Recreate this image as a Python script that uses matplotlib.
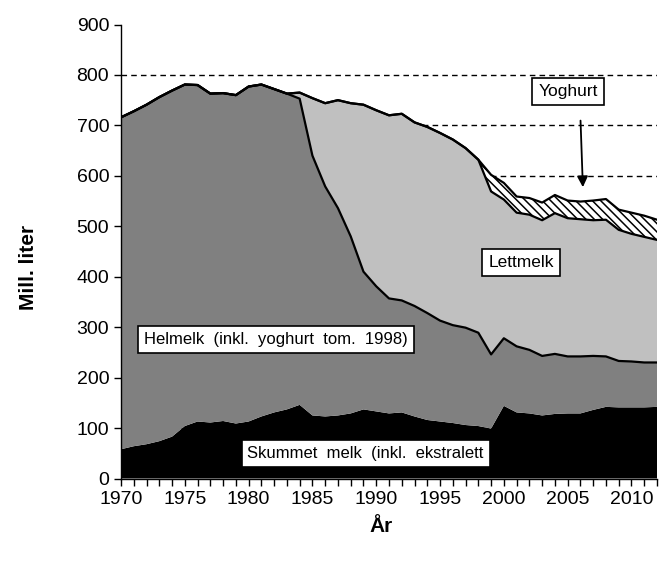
import matplotlib
matplotlib.use('Agg')
import matplotlib.pyplot as plt
from matplotlib.ticker import MultipleLocator
import numpy as np

plt.rcParams['font.family'] = ['Liberation Sans', 'DejaVu Sans']
plt.rcParams['hatch.linewidth'] = 1.1

# Mill. liter per år
years = list(range(1970, 2013))
skummet = [58, 64, 68, 74, 83, 104, 113, 111, 114, 109, 113, 123, 131, 137, 146,
           125, 123, 125, 129, 137, 133, 129, 131, 123, 116, 113, 110, 106, 104, 99,
           144, 131, 129, 125, 128, 129, 129, 136, 142, 141, 141, 141, 142]
helmelk = [658, 664, 673, 682, 686, 677, 667, 652, 650, 651, 664, 658, 641, 626, 607,
           515, 456, 411, 351, 273, 248, 228, 222, 219, 212, 200, 194, 193, 185, 147,
           134, 131, 126, 118, 119, 113, 113, 107, 100, 92, 91, 89, 88]
lettmelk = [0, 0, 0, 0, 0, 0, 0, 0, 0, 0, 0, 0, 0, 0, 12,
            114, 165, 214, 264, 331, 349, 363, 370, 364, 369, 372, 368, 356, 343, 323,
            275, 265, 268, 269, 279, 274, 272, 269, 271, 260, 253, 249, 243]
yoghurt = [0] * 29 + [33, 33, 32, 33, 35, 36, 35, 35, 39, 41, 40, 42, 42, 40]

x = np.array(years)
s_top = np.array(skummet)
h_top = s_top + np.array(helmelk)
l_top = h_top + np.array(lettmelk)
y_top = l_top + np.array(yoghurt)

fig = plt.figure(figsize=(6.59, 5.62), dpi=100)
ax = fig.add_axes([121 / 659, 1 - 478.5 / 562, 536 / 659, 454 / 562])

ax.fill_between(x, 0, s_top, facecolor='black', linewidth=0)
ax.fill_between(x, s_top, h_top, facecolor='#808080', linewidth=0)
ax.fill_between(x, h_top, l_top, facecolor='#c0c0c0', linewidth=0)
ax.fill_between(x, l_top, y_top, facecolor='white', edgecolor='black',
                hatch='\\\\\\\\', linewidth=0)

ax.plot(x, h_top, color='black', lw=1.6, zorder=3)
ax.plot(x, l_top, color='black', lw=1.6, zorder=3)
ax.plot(x, y_top, color='black', lw=1.6, zorder=3)

ax.set_xlim(1970, 2012)
ax.set_ylim(0, 900)
ax.set_yticks(range(0, 1000, 100))
ax.xaxis.set_major_locator(MultipleLocator(5))
ax.xaxis.set_minor_locator(MultipleLocator(1))
ax.tick_params(axis='both', which='both', direction='out', length=5,
               width=1, labelsize=14, color='black')
ax.tick_params(axis='x', pad=4)

ax.grid(axis='y', linestyle=(0, (4, 3)), color='black', linewidth=1)
ax.set_axisbelow(True)
gl = ax.get_ygridlines()
gl[0].set_visible(False)
gl[-1].set_visible(False)

for side in ['top', 'right']:
    ax.spines[side].set_visible(False)
for side in ['left', 'bottom']:
    ax.spines[side].set_linewidth(1)

box = dict(boxstyle='square,pad=0.35', facecolor='white', edgecolor='black', lw=1.2)
ax.text(1971.8, 275, 'Helmelk  (inkl.  yoghurt  tom.  1998)', fontsize=12,
        ha='left', va='center', bbox=box, zorder=5)
ax.text(1979.9, 50, 'Skummet  melk  (inkl.  ekstralett', fontsize=12,
        ha='left', va='center', bbox=box, zorder=5)
ax.text(1998.8, 428, 'Lettmelk', fontsize=12.5, ha='left', va='center',
        bbox=box, zorder=5)
ax.text(2002.7, 767, 'Yoghurt', fontsize=12.5, ha='left', va='center',
        bbox=box, zorder=5)
ax.annotate('', xy=(2006.2, 572), xytext=(2006.0, 715),
            arrowprops=dict(arrowstyle='-|>', color='black', lw=1.3,
                            mutation_scale=16), zorder=5)

fig.text(28 / 659, 1 - 267 / 562, 'Mill. liter', rotation=90, fontsize=15,
         fontweight='bold', ha='center', va='center')
fig.text(381 / 659, 1 - 527 / 562, 'År', fontsize=15, fontweight='bold',
         ha='center', va='center')

fig.savefig('out.png', dpi=100)
